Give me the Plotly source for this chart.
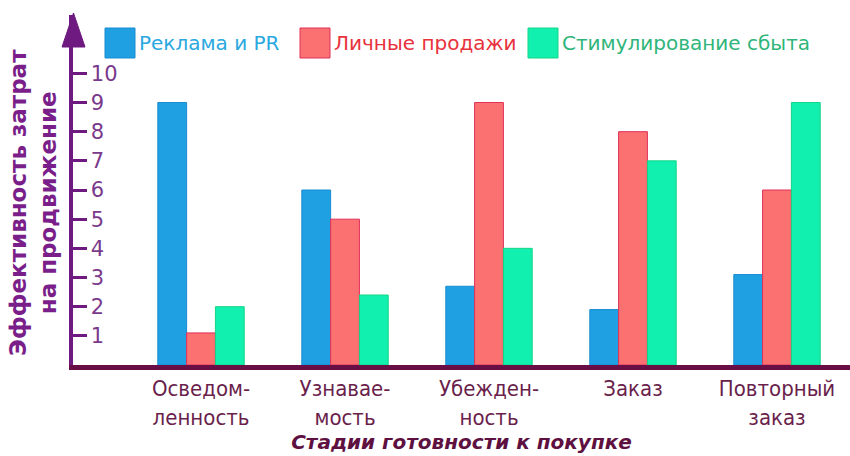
import plotly.graph_objects as go

# Buyer-readiness stages (two-line tick labels)
stages = ["Осведом-<br>ленность", "Узнавае-<br>мость", "Убежден-<br>ность", "Заказ", "Повторный<br>заказ"]
stage_pos = [0, 1, 2, 3, 4]

# Promotion effectiveness per tool
advertising = [9, 6, 2.7, 1.9, 3.1]
personal_selling = [1.1, 5, 9, 8, 6]
sales_promotion = [2, 2.4, 4, 7, 9]

series_names = ["Реклама и PR", "Личные продажи", "Стимулирование сбыта"]
y_ticks = [1, 2, 3, 4, 5, 6, 7, 8, 9, 10]

fills = ["#1ea0e2", "#fb7070", "#12f0b0"]
edges = ["#1a8cd2", "#e0305a", "#14d585"]
text_colors = ["#2aa8e0", "#e8323c", "#2fb57a"]

fig = go.Figure()
for name, vals, fill, edge in zip(series_names, [advertising, personal_selling, sales_promotion], fills, edges):
    fig.add_trace(go.Bar(
        x=stage_pos, y=vals, name=name, showlegend=False,
        marker=dict(color=fill, line=dict(color=edge, width=1)),
    ))

axis_purple = "#6e1a80"
axis_maroon = "#6a0f45"

# plot area in pixels: left 73, right 850, top 15, bottom 365
L, R, T, B = 73, 850, 15, 365
def px(x):
    return (x - L) / (R - L)
def py(y):
    return (B - y) / (B - T)

fig.update_layout(
    width=850, height=456,
    margin=dict(l=L, r=850 - R, t=T, b=456 - B),
    paper_bgcolor="white", plot_bgcolor="white",
    barmode="group", bargap=0.4, bargroupgap=0,
    font=dict(family="DejaVu Sans", size=20),
    showlegend=False,
    xaxis=dict(
        range=[-0.889, 4.507],
        tickvals=stage_pos, ticktext=stages,
        showgrid=False, zeroline=False,
        showline=True, linecolor=axis_maroon, linewidth=5,
        ticks="", ticklabelstandoff=0,
        tickfont=dict(family="Liberation Sans Narrow, DejaVu Sans Condensed, Arial Narrow", size=22, color="#6a1f4c"),
        title=dict(
            text="<b><i>Стадии готовности к покупке</i></b>",
            font=dict(family="DejaVu Sans", size=20, color="#5e1040"),
            standoff=2,
        ),
    ),
    yaxis=dict(
        range=[0, 12],
        tickvals=y_ticks,
        showgrid=False, zeroline=False,
        showline=True, linecolor=axis_purple, linewidth=4,
        ticks="inside", ticklen=14, tickwidth=3, tickcolor=axis_purple,
        ticklabelposition="inside", ticklabelstandoff=5,
        tickfont=dict(family="DejaVu Sans", size=21, color="#7a3a8c"),
    ),
)

# Value-axis title
fig.add_annotation(
    xref="paper", yref="paper", x=px(33), y=py(203),
    text="<b>Эффективность затрат<br>на продвижение</b>",
    textangle=-90, showarrow=False, xanchor="center", yanchor="middle",
    font=dict(family="DejaVu Sans", size=23, color="#7a1f8a"),
)

# Arrowhead at the top of the value axis
fig.add_shape(
    type="path", xref="paper", yref="paper",
    path=f"M {px(62)} {py(47)} L {px(85)} {py(47)} L {px(73.5)} {py(13)} Z",
    fillcolor=axis_purple, line=dict(color=axis_purple, width=1),
)

# Legend: large swatches with coloured labels
swatch_left = [105, 300, 528]
for name, fill, edge, tc, x0 in zip(series_names, fills, edges, text_colors, swatch_left):
    fig.add_shape(
        type="rect", xref="paper", yref="paper",
        x0=px(x0), x1=px(x0 + 30), y0=py(58), y1=py(28),
        fillcolor=fill, line=dict(color=edge, width=1),
    )
    fig.add_annotation(
        xref="paper", yref="paper", x=px(x0 + 32), y=py(43),
        text=name, showarrow=False, xanchor="left", yanchor="middle",
        font=dict(family="DejaVu Sans", size=20, color=tc),
    )

fig.write_html("out.html")
